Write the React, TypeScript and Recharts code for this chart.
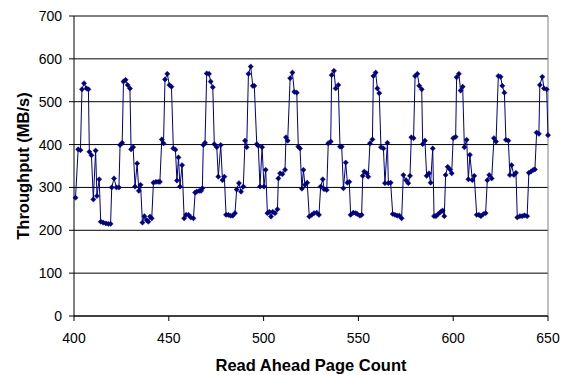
import { LineChart, Line, XAxis, YAxis, CartesianGrid, ReferenceLine } from 'recharts';

const pageCount = [
  400.8, 402.2, 403.4, 404.2, 405.3, 406.6, 407.6, 408.1, 409.2, 410.2, 411.4, 412.1, 413.3, 414.1, 415.4,
  416.8, 418.1, 419.3, 419.9, 421.1, 422.4, 423.7, 424.3, 425.4, 426.1, 427.2, 428.3, 429.5, 430.1, 431.2,
  432.2, 433.3, 434.2, 435.1, 436.1, 437.1, 438.3, 439.2, 440.1, 441.0, 441.9, 443.2, 444.4, 445.3, 446.3,
  447.2, 448.0, 449.2, 450.3, 451.4, 452.4, 453.5, 454.3, 455.1, 455.9, 457.0, 458.1, 459.1, 460.4, 461.6,
  463.0, 463.9, 464.7, 466.0, 467.0, 467.7, 468.2, 469.1, 470.0, 471.2, 472.1, 473.2, 474.0, 475.3, 476.1,
  477.4, 478.3, 479.3, 480.2, 481.4, 482.6, 483.7, 484.9, 485.8, 487.0, 488.1, 489.3, 490.2, 491.1, 492.0,
  493.2, 494.3, 495.1, 496.4, 497.2, 498.1, 499.2, 500.2, 501.1, 502.0, 503.0, 503.9, 504.8, 506.0, 507.3,
  507.8, 508.7, 509.9, 511.3, 511.8, 512.7, 514.0, 515.2, 516.2, 517.5, 518.3, 519.2, 520.2, 521.0, 521.8,
  523.0, 524.1, 525.4, 526.6, 528.0, 529.2, 530.1, 531.2, 531.9, 533.3, 534.1, 535.4, 535.9, 537.1, 538.0,
  539.4, 540.3, 541.2, 542.1, 543.3, 544.2, 545.2, 545.9, 547.3, 548.6, 549.4, 550.8, 551.7, 552.3, 553.1,
  554.4, 555.2, 556.1, 557.4, 557.9, 559.1, 560.0, 561.0, 561.9, 563.2, 564.0, 565.3, 565.8, 567.0, 568.1,
  569.3, 570.5, 571.6, 572.8, 573.7, 575.1, 576.3, 577.2, 577.9, 579.1, 579.9, 581.1, 582.1, 583.4, 583.9,
  585.1, 586.0, 587.2, 588.1, 589.2, 589.9, 590.9, 592.1, 593.4, 594.4, 595.3, 596.0, 597.1, 598.3, 599.2,
  600.0, 601.3, 601.8, 603.0, 603.9, 605.0, 605.9, 607.1, 608.0, 608.8, 610.1, 611.1, 612.4, 613.6, 614.6,
  615.9, 617.1, 618.0, 619.0, 620.3, 621.5, 622.6, 623.8, 625.0, 625.9, 627.0, 627.8, 629.1, 629.9, 630.8,
  632.0, 633.1, 633.8, 635.2, 636.4, 637.6, 639.0, 639.9, 641.0, 642.2, 643.1, 644.0, 645.2, 645.7, 647.0,
  647.9, 649.3, 650.0
];

const throughput = [
  276, 389, 387, 529, 543, 531, 529, 383, 375, 272, 386, 280, 319, 220, 218,
  216, 215, 215, 300, 321, 300, 300, 399, 404, 547, 551, 539, 531, 389, 394,
  302, 356, 292, 306, 218, 233, 224, 220, 232, 228, 311, 313, 313, 313, 412,
  403, 552, 565, 539, 535, 391, 388, 316, 370, 302, 352, 228, 236, 236, 230,
  228, 288, 290, 292, 292, 298, 399, 404, 566, 565, 547, 534, 401, 394, 325,
  399, 317, 325, 236, 236, 234, 234, 240, 295, 310, 290, 302, 409, 394, 565,
  582, 537, 537, 401, 397, 302, 394, 302, 341, 240, 243, 232, 243, 240, 249,
  321, 333, 331, 341, 417, 409, 555, 568, 523, 521, 395, 391, 297, 341, 306,
  311, 232, 236, 240, 241, 236, 302, 319, 296, 294, 403, 407, 562, 572, 531,
  539, 395, 395, 298, 358, 311, 313, 236, 241, 240, 238, 234, 236, 327, 337,
  333, 325, 403, 412, 560, 568, 531, 520, 394, 391, 310, 404, 310, 311, 238,
  236, 234, 234, 228, 329, 317, 310, 327, 417, 415, 560, 565, 537, 529, 401,
  409, 327, 333, 311, 391, 233, 233, 238, 243, 246, 233, 329, 348, 342, 333,
  415, 418, 557, 565, 526, 535, 394, 411, 319, 376, 317, 327, 236, 236, 233,
  238, 240, 317, 329, 321, 415, 407, 560, 558, 537, 521, 411, 409, 329, 352,
  329, 334, 230, 233, 233, 235, 233, 334, 337, 341, 342, 428, 425, 539, 558,
  531, 529, 422
];

const xTicks = [400, 450, 500, 550, 600, 650];
const yTicks = [0, 100, 200, 300, 400, 500, 600, 700];

const data = pageCount.map((x, i) => ({ x, y: throughput[i] }));

const FONT = '"Liberation Sans", Arial, sans-serif';
const NAVY = '#000080';

// small filled diamond marker like the original
const Diamond = (props: any) => {
  const { cx, cy, index } = props;
  if (cx == null || cy == null) return <g key={`d-${index}`} />;
  const r = 2.6;
  return (
    <path
      key={`d-${index}`}
      d={`M${cx},${cy - r}L${cx + r},${cy}L${cx},${cy + r}L${cx - r},${cy}Z`}
      fill={NAVY}
      stroke={NAVY}
      strokeWidth={0.5}
    />
  );
};

export default function App() {
  return (
    <div style={{ position: 'absolute', left: 0, top: 0, width: 569, height: 375, background: '#fff' }}>
      <LineChart width={569} height={375} data={data} margin={{ top: 16, right: 21, left: 0, bottom: 0 }}>
        <CartesianGrid vertical={false} stroke="#000" strokeWidth={1} />
        <XAxis
          type="number"
          dataKey="x"
          domain={[400, 650]}
          ticks={xTicks}
          height={59}
          stroke="#000"
          tickSize={5}
          tickMargin={12}
          tick={{ fill: '#000', fontSize: 14, fontFamily: FONT }}
          label={{
            value: 'Read Ahead Page Count',
            position: 'insideBottom',
            offset: 4,
            style: { fill: '#000', fontSize: 16.5, fontWeight: 'bold', fontFamily: FONT }
          }}
        />
        <YAxis
          type="number"
          domain={[0, 700]}
          ticks={yTicks}
          width={74}
          stroke="#000"
          tickSize={5}
          tickMargin={7}
          tick={{ fill: '#000', fontSize: 14, fontFamily: FONT }}
          label={{
            content: () => (
              <text
                x={23}
                y={166}
                transform="rotate(-90 23 166)"
                textAnchor="middle"
                dominantBaseline="central"
                style={{ fill: '#000', fontSize: 16.5, fontWeight: 'bold', fontFamily: FONT }}
              >
                Throughput (MB/s)
              </text>
            )
          }}
        />
        <ReferenceLine x={650} stroke="#808080" strokeWidth={1} />
        <Line
          type="linear"
          dataKey="y"
          stroke={NAVY}
          strokeWidth={1}
          dot={Diamond}
          activeDot={false}
          isAnimationActive={false}
        />
      </LineChart>
    </div>
  );
}
